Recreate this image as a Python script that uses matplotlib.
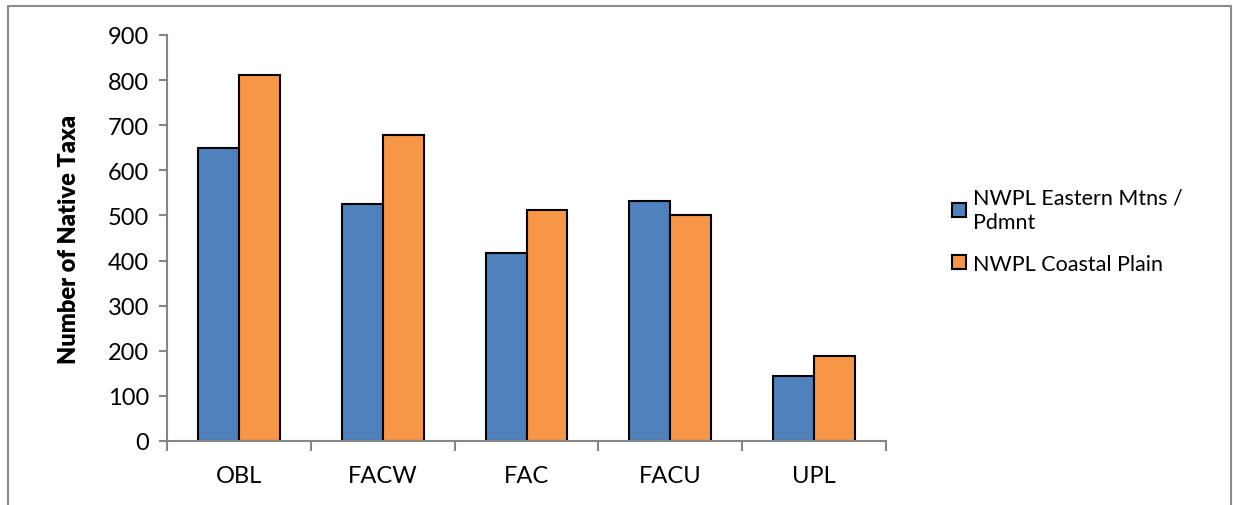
import matplotlib.pyplot as plt
import matplotlib.patches as patches
import numpy as np

plt.rcParams['font.family'] = ['Lato', 'DejaVu Sans']

categories = ['OBL', 'FACW', 'FAC', 'FACU', 'UPL']
mtns_pdmnt = [650, 525, 417, 532, 145]
coastal_plain = [812, 678, 513, 502, 189]
series_names = ['NWPL Eastern Mtns /\nPdmnt', 'NWPL Coastal Plain']

W, H = 1233, 506
fig = plt.figure(figsize=(W / 100, H / 100), dpi=100)

# gray outer frame (bottom edge is cut off in the original)
fig.patches.append(patches.Rectangle((8 / W, -0.05), (1231 - 8) / W, 1.05 - 7 / H,
                                     transform=fig.transFigure, fill=False,
                                     edgecolor='#8c8c8c', linewidth=1.5))

ax = fig.add_axes([167 / W, 1 - 442 / H, (886 - 167) / W, (442 - 36) / H])

x = np.arange(len(categories))
bw = 0.285
ax.bar(x - bw / 2, mtns_pdmnt, bw, color='#4f81bd', edgecolor='black', linewidth=1.5,
       label=series_names[0])
ax.bar(x + bw / 2, coastal_plain, bw, color='#f79646', edgecolor='black', linewidth=1.5,
       label=series_names[1])

ax.set_xlim(-0.5, len(categories) - 0.5)
ax.set_ylim(0, 900)
ax.set_yticks(range(0, 901, 100))
ax.set_xticks(x)
ax.set_xticklabels(categories)
ax.set_xticks(np.arange(-0.5, len(categories)), minor=True)

for s in ['top', 'right']:
    ax.spines[s].set_visible(False)
for s in ['left', 'bottom']:
    ax.spines[s].set_color('#868686')
    ax.spines[s].set_linewidth(1.5)

ax.tick_params(axis='y', colors='#868686', labelcolor='black', labelsize=17,
               length=6, width=1.5, pad=7)
ax.tick_params(axis='x', which='major', length=0, labelsize=17, pad=17)
ax.tick_params(axis='x', which='minor', length=7, width=1.5, colors='#868686')

ax.set_ylabel('Number of Native Taxa', fontsize=17, fontweight='heavy', labelpad=20)

leg = ax.legend(loc='upper left', bbox_to_anchor=(933 / W, 1 - 169 / H),
                bbox_transform=fig.transFigure, frameon=False, fontsize=15.5,
                handlelength=0.65, handleheight=0.65, handletextpad=0.3, labelspacing=1.0)
for t in leg.get_texts():
    t.set_linespacing(1.3)

fig.savefig('out.png', dpi=100)
